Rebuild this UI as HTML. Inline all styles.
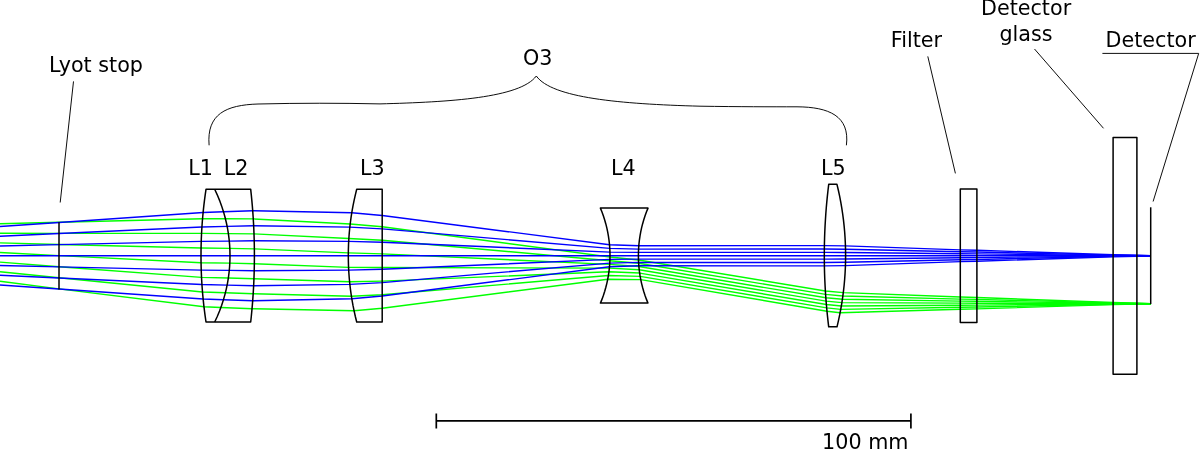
<!DOCTYPE html>
<html><head><meta charset="utf-8"><title>O3 optical layout</title>
<style>
html,body{margin:0;padding:0;background:#fff;}
body{width:1200px;height:451px;overflow:hidden;}
svg{display:block;will-change:transform;}
text{font-family:"DejaVu Sans","Liberation Sans",sans-serif;font-size:20.7px;fill:#000;}
</style></head><body>
<svg width="1200" height="451" viewBox="0 0 1200 451">
<rect width="1200" height="451" fill="#fff"/>
<g fill="none" stroke-width="1.4" stroke-linejoin="round">
<polyline points="0.00,223.70 59.00,222.30 202.54,218.70 225.45,218.80 253.27,218.90 350.19,224.00 382.20,226.70 609.99,257.00 638.48,260.00 825.38,291.00 843.31,292.60 960.30,297.05 976.90,297.50 1113.10,302.57 1136.90,303.23 1150.70,303.80" stroke="#00ff00"/>
<polyline points="0.00,233.30 59.00,233.40 201.56,233.37 228.38,233.58 254.00,233.87 348.86,238.45 382.20,240.30 609.90,260.70 638.64,263.27 825.60,294.38 842.87,295.95 960.30,299.08 976.90,299.40 1113.10,302.91 1136.90,303.39 1150.70,303.80" stroke="#00ff00"/>
<polyline points="0.00,242.90 59.00,244.50 201.07,248.03 229.82,248.37 254.36,248.83 348.31,252.90 382.20,253.90 609.69,264.40 638.88,266.53 825.84,297.77 842.40,299.30 960.30,301.12 976.90,301.30 1113.10,303.26 1136.90,303.54 1150.70,303.80" stroke="#00ff00"/>
<polyline points="0.00,252.50 59.00,255.60 201.06,262.70 229.81,263.15 254.34,263.80 348.56,267.35 382.20,267.50 609.37,268.10 639.22,269.80 826.09,301.15 841.88,302.65 960.30,303.15 976.90,303.20 1113.10,303.60 1136.90,303.70 1150.70,303.80" stroke="#00ff00"/>
<polyline points="0.00,262.10 59.00,266.70 201.53,277.37 228.35,277.93 253.95,278.77 349.59,281.80 382.20,281.10 608.93,271.80 639.64,273.07 826.37,304.53 841.33,306.00 960.30,305.18 976.90,305.10 1113.10,303.94 1136.90,303.86 1150.70,303.80" stroke="#00ff00"/>
<polyline points="0.00,271.70 59.00,277.80 202.50,292.03 225.40,292.72 253.18,293.73 351.41,296.25 382.20,294.70 608.38,275.50 640.16,276.33 826.67,307.92 840.74,309.35 960.30,307.22 976.90,307.00 1113.10,304.29 1136.90,304.01 1150.70,303.80" stroke="#00ff00"/>
<polyline points="0.00,281.30 59.00,288.90 203.95,306.70 220.85,307.50 252.04,308.70 354.05,310.70 382.20,308.30 607.72,279.20 640.76,279.60 826.99,311.30 840.11,312.70 960.30,309.25 976.90,308.90 1113.10,304.63 1136.90,304.17 1150.70,303.80" stroke="#00ff00"/>
<polyline points="0.00,226.45 59.00,222.45 203.10,212.55 223.50,211.75 252.71,210.75 351.78,212.75 382.20,215.45 609.51,244.75 638.80,245.75 824.39,245.60 845.44,245.90 960.30,249.85 976.90,250.22 1113.10,254.75 1136.90,255.29 1150.70,255.75" stroke="#0000ff"/>
<polyline points="0.00,236.22 59.00,233.55 201.93,226.95 227.15,226.42 253.65,225.75 349.84,227.08 382.20,228.88 609.79,248.42 638.58,249.08 824.34,248.98 845.53,249.18 960.30,251.82 976.90,252.06 1113.10,255.08 1136.90,255.44 1150.70,255.75" stroke="#0000ff"/>
<polyline points="0.00,245.98 59.00,244.65 201.23,241.35 229.30,241.08 254.21,240.75 348.68,241.42 382.20,242.32 609.95,252.08 638.44,252.42 824.31,252.37 845.58,252.47 960.30,253.78 976.90,253.91 1113.10,255.42 1136.90,255.60 1150.70,255.75" stroke="#0000ff"/>
<polyline points="0.00,255.75 59.00,255.75 201.00,255.75 230.00,255.75 254.40,255.75 348.30,255.75 382.20,255.75 610.00,255.75 638.40,255.75 824.30,255.75 845.60,255.75 960.30,255.75 976.90,255.75 1113.10,255.75 1136.90,255.75 1150.70,255.75" stroke="#0000ff"/>
<polyline points="0.00,265.52 59.00,266.85 201.24,270.15 229.28,270.42 254.21,270.75 348.69,270.08 382.20,269.18 609.94,259.42 638.45,259.08 824.31,259.13 845.58,259.03 960.30,257.72 976.90,257.59 1113.10,256.08 1136.90,255.90 1150.70,255.75" stroke="#0000ff"/>
<polyline points="0.00,275.28 59.00,277.95 201.94,284.55 227.11,285.08 253.64,285.75 349.86,284.42 382.20,282.62 609.77,263.08 638.59,262.42 824.34,262.52 845.53,262.32 960.30,259.68 976.90,259.44 1113.10,256.42 1136.90,256.06 1150.70,255.75" stroke="#0000ff"/>
<polyline points="0.00,285.05 59.00,289.05 203.12,298.95 223.44,299.75 252.69,300.75 351.81,298.75 382.20,296.05 609.50,266.75 638.82,265.75 824.39,265.90 845.43,265.60 960.30,261.65 976.90,261.28 1113.10,256.75 1136.90,256.21 1150.70,255.75" stroke="#0000ff"/>
</g>
<g fill="none" stroke="#000" stroke-width="1.5" stroke-linejoin="round">
<path d="M206.00,189.30 L205.20,194.83 L204.47,200.36 L203.81,205.89 L203.22,211.42 L202.70,216.95 L202.24,222.48 L201.86,228.00 L201.55,233.53 L201.31,239.06 L201.14,244.59 L201.03,250.12 L201.00,255.65 L201.03,261.18 L201.14,266.71 L201.31,272.24 L201.55,277.77 L201.86,283.30 L202.24,288.82 L202.70,294.35 L203.22,299.88 L203.81,305.41 L204.47,310.94 L205.20,316.47 L206.00,322.00 L250.70,322.00 L251.29,316.47 L251.83,310.94 L252.32,305.41 L252.76,299.88 L253.14,294.35 L253.48,288.82 L253.76,283.30 L253.99,277.77 L254.17,272.24 L254.30,266.71 L254.37,261.18 L254.40,255.65 L254.37,250.12 L254.30,244.59 L254.17,239.06 L253.99,233.53 L253.76,228.00 L253.48,222.48 L253.14,216.95 L252.76,211.42 L252.32,205.89 L251.83,200.36 L251.29,194.83 L250.70,189.30 Z"/>
<path d="M214.70,189.30 L217.26,194.83 L219.55,200.36 L221.59,205.89 L223.40,211.42 L224.97,216.95 L226.32,222.48 L227.46,228.00 L228.38,233.53 L229.09,239.06 L229.60,244.59 L229.90,250.12 L230.00,255.65 L229.90,261.18 L229.60,266.71 L229.09,272.24 L228.38,277.77 L227.46,283.30 L226.32,288.82 L224.97,294.35 L223.40,299.88 L221.59,305.41 L219.55,310.94 L217.26,316.47 L214.70,322.00"/>
<path d="M356.70,189.30 L355.34,194.83 L354.11,200.36 L352.99,205.89 L352.00,211.42 L351.13,216.95 L350.38,222.48 L349.74,228.00 L349.22,233.53 L348.82,239.06 L348.53,244.59 L348.36,250.12 L348.30,255.65 L348.36,261.18 L348.53,266.71 L348.82,272.24 L349.22,277.77 L349.74,283.30 L350.38,288.82 L351.13,294.35 L352.00,299.88 L352.99,305.41 L354.11,310.94 L355.34,316.47 L356.70,322.00 L382.20,322.00 L382.20,189.30 Z"/>
<path d="M600.40,208.10 L601.99,212.06 L603.42,216.02 L604.69,219.97 L605.83,223.93 L606.82,227.89 L607.67,231.85 L608.38,235.81 L608.97,239.77 L609.42,243.72 L609.74,247.68 L609.93,251.64 L610.00,255.60 L609.94,259.56 L609.75,263.52 L609.43,267.48 L608.98,271.43 L608.40,275.39 L607.69,279.35 L606.84,283.31 L605.85,287.27 L604.73,291.23 L603.45,295.18 L602.03,299.14 L600.45,303.10 L647.95,303.10 L646.37,299.14 L644.95,295.18 L643.67,291.23 L642.55,287.27 L641.56,283.31 L640.71,279.35 L640.00,275.39 L639.42,271.43 L638.97,267.48 L638.65,263.52 L638.46,259.56 L638.40,255.60 L638.47,251.64 L638.66,247.68 L638.98,243.72 L639.43,239.77 L640.02,235.81 L640.73,231.85 L641.58,227.89 L642.57,223.93 L643.71,219.97 L644.98,216.02 L646.41,212.06 L648.00,208.10 Z"/>
<path d="M828.72,184.30 L828.01,190.24 L827.37,196.18 L826.78,202.11 L826.26,208.05 L825.80,213.99 L825.41,219.93 L825.07,225.86 L824.79,231.80 L824.58,237.74 L824.42,243.68 L824.33,249.61 L824.30,255.55 L824.33,261.49 L824.42,267.43 L824.57,273.36 L824.78,279.30 L825.06,285.24 L825.39,291.18 L825.79,297.11 L826.25,303.05 L826.77,308.99 L827.35,314.93 L827.99,320.86 L828.70,326.80 L837.01,326.80 L838.40,320.86 L839.67,314.93 L840.80,308.99 L841.82,303.05 L842.71,297.11 L843.48,291.18 L844.13,285.24 L844.66,279.30 L845.07,273.36 L845.37,267.43 L845.54,261.49 L845.60,255.55 L845.54,249.61 L845.36,243.68 L845.06,237.74 L844.65,231.80 L844.11,225.86 L843.46,219.93 L842.68,213.99 L841.79,208.05 L840.77,202.11 L839.63,196.18 L838.36,190.24 L836.96,184.30 Z"/>
<path d="M960.30,189.00 L976.90,189.00 L976.90,322.40 L960.30,322.40 Z"/>
<path d="M1113.10,137.60 L1136.90,137.60 L1136.90,374.30 L1113.10,374.30 Z"/>
<path d="M1150.70,207.30 L1150.70,304.10"/>
<path d="M59.00,222.30 L59.00,289.60"/>
</g>
<g fill="none" stroke="#000" stroke-width="0.95">
<path d="M73.5,81.4 L60.2,202.5"/>
<path d="M927.8,56.4 L955.4,173.4"/>
<path d="M1034.5,49 L1103.5,128.3"/>
<path d="M1102.4,53.4 L1198.7,53.4 L1153.1,201.5"/>
<path d="M209.1,145.3 C206.5,114 226,105 258,104 C300,103 340,103 380,103.9 C450,102 520,98 536.3,76 C552,98 620,104 700,106.2 C740,106.8 770,106.8 797,106.8 C829,107 850,116 846.4,145.3"/>
</g>
<g fill="none" stroke="#000" stroke-width="1.7">
<path d="M436.3,420.9 L910.9,420.9 M436.3,413.4 L436.3,428.4 M910.9,413.4 L910.9,428.4"/>
</g>
<text x="49.1" y="71.9">Lyot stop</text>
<text x="188.2" y="174.6">L1</text>
<text x="223.7" y="174.6">L2</text>
<text x="360.0" y="174.6">L3</text>
<text x="611.0" y="174.6">L4</text>
<text x="820.9" y="174.6">L5</text>
<text x="523.0" y="64.6">O3</text>
<text x="890.8" y="46.8">Filter</text>
<text x="981.0" y="15.1">Detector</text>
<text x="999.4" y="41.3">glass</text>
<text x="1105.6" y="46.8">Detector</text>
<text x="822.1" y="449">100 mm</text>
</svg>
</body></html>
